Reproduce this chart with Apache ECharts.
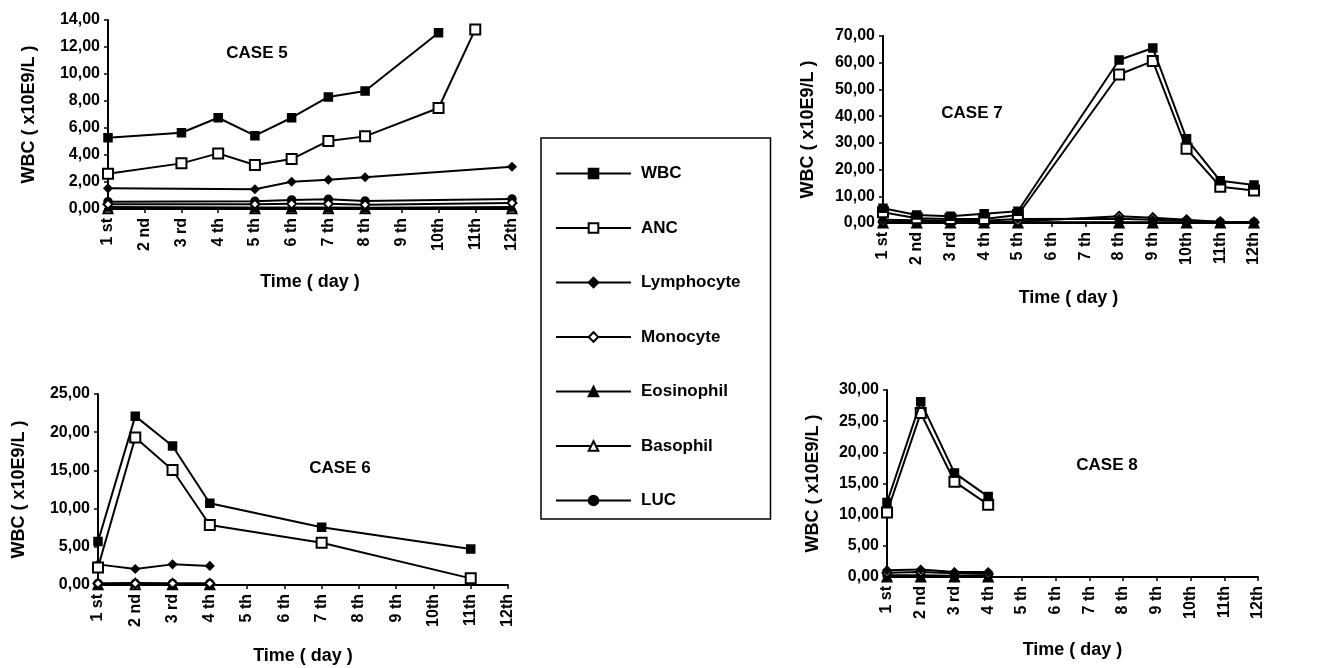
<!DOCTYPE html>
<html>
<head>
<meta charset="utf-8">
<script src="https://cdn.jsdelivr.net/npm/echarts@6/dist/echarts.min.js"></script>
<style>html,body{margin:0;padding:0;background:#fff}#c{width:1320px;height:668px}</style>
</head>
<body>
<div id="c"></div>
<script>
// ---- DATA ----
const days = ['1 st','2 nd','3 rd','4 th','5 th','6 th','7 th','8 th','9 th','10th','11th','12th'];
const seriesNames = ['WBC','ANC','Lymphocyte','Monocyte','Eosinophil','Basophil','LUC'];
const yMax = [14, 70, 25, 30];
const yStep = [2, 10, 5, 5];
const caseLabels = ['CASE 5','CASE 7','CASE 6','CASE 8'];

// CASE 5
const c5WBC   = [5.28, null, 5.65, 6.76, 5.43, 6.76, 8.30, 8.74, null, 13.06, null, null];
const c5ANC   = [2.61, null, 3.38, 4.12, 3.26, 3.70, 5.04, 5.38, null, 7.48, 13.30, null];
const c5Lymph = [1.53, null, null, null, 1.46, 2.02, 2.17, 2.35, null, null, null, 3.13];
const c5Mono  = [0.35, null, null, null, 0.35, 0.38, 0.38, 0.32, null, null, null, 0.45];
const c5Eos   = [0.15, null, null, null, 0.12, 0.12, 0.12, 0.10, null, null, null, 0.15];
const c5Baso  = [0.02, null, null, null, 0.02, 0.02, 0.02, 0.02, null, null, null, 0.02];
const c5LUC   = [0.54, null, null, null, 0.57, 0.67, 0.72, 0.59, null, null, null, 0.74];

// CASE 7
const c7WBC   = [5.5, 3.0, 2.5, 3.5, 4.4, null, null, 61.0, 65.5, 31.5, 15.8, 14.2];
const c7ANC   = [4.0, 1.8, 1.5, 1.5, 3.0, null, null, 55.6, 60.6, 27.8, 13.6, 12.2];
const c7Lymph = [1.2, 1.0, 0.8, 0.8, 1.5, null, null, 1.6, 1.2, 0.8, 0.5, 0.4];
const c7Mono  = [0.5, 0.4, 0.4, 0.3, 0.6, null, null, 2.5, 2.0, 1.2, 0.4, 0.3];
const c7Eos   = [0.1, 0.1, 0.1, 0.1, 0.1, null, null, 0.1, 0.1, 0.1, 0.1, 0.1];
const c7Baso  = [0.02, 0.02, 0.02, 0.02, 0.02, null, null, 0.02, 0.02, 0.02, 0.02, 0.02];
const c7LUC   = [0.2, 0.2, 0.2, 0.2, 0.3, null, null, 0.3, 0.3, 0.3, 0.3, 0.3];

// CASE 6
const c6WBC   = [5.7, 22.1, 18.2, 10.7, null, null, 7.55, null, null, null, 4.7, null];
const c6ANC   = [2.3, 19.3, 15.05, 7.85, null, null, 5.54, null, null, null, 0.87, null];
const c6Lymph = [2.7, 2.1, 2.7, 2.5, null, null, null, null, null, null, null, null];
const c6Mono  = [0.2, 0.2, 0.2, 0.2, null, null, null, null, null, null, null, null];
const c6Eos   = [0.1, 0.3, 0.1, 0.1, null, null, null, null, null, null, null, null];
const c6Baso  = [0.02, 0.02, 0.02, 0.02, null, null, null, null, null, null, null, null];
const c6LUC   = [0.2, 0.2, 0.2, 0.2, null, null, null, null, null, null, null, null];

// CASE 8
const c8WBC   = [11.95, 28.1, 16.7, 12.9, null, null, null, null, null, null, null, null];
const c8ANC   = [10.35, 26.3, 15.3, 11.6, null, null, null, null, null, null, null, null];
const c8Lymph = [1.1, 1.2, 0.8, 0.8, null, null, null, null, null, null, null, null];
const c8Mono  = [0.7, 0.8, 0.6, 0.5, null, null, null, null, null, null, null, null];
const c8Eos   = [0.1, 0.1, 0.1, 0.1, null, null, null, null, null, null, null, null];
const c8Baso  = [0.02, 0.02, 0.02, 0.02, null, null, null, null, null, null, null, null];
const c8LUC   = [0.3, 0.3, 0.2, 0.2, null, null, null, null, null, null, null, null];

const caseData = [
  [c5WBC, c5ANC, c5Lymph, c5Mono, c5Eos, c5Baso, c5LUC],
  [c7WBC, c7ANC, c7Lymph, c7Mono, c7Eos, c7Baso, c7LUC],
  [c6WBC, c6ANC, c6Lymph, c6Mono, c6Eos, c6Baso, c6LUC],
  [c8WBC, c8ANC, c8Lymph, c8Mono, c8Eos, c8Baso, c8LUC]
];

// ---- STYLE / LAYOUT ----
const FONT = 'Liberation Sans, Arial, sans-serif';
const grids = [
  {left: 108, top: 20,  width: 404, height: 189},
  {left: 883, top: 36,  width: 371, height: 187},
  {left: 98,  top: 394, width: 410, height: 191},
  {left: 887, top: 390, width: 371, height: 187}
];
const yNameGap = [70, 66, 70, 65];
const xNameGap = [64, 66, 62, 64];
const titlePos = [[257, 53], [972, 113], [340, 468], [1107, 465]];
const symbols = ['rect','emptyRect','diamond','emptyDiamond','triangle','emptyTriangle','circle'];
const symSizes = [8, 10, 8, 9, 8, 9, 8];

const chart = echarts.init(document.getElementById('c'));
const axisLine = {show: true, lineStyle: {color: '#000', width: 2}};

const option = {
  backgroundColor: '#fff',
  animation: false,
  grid: grids.map(g => Object.assign({outerBoundsMode: 'none', containLabel: false}, g)),
  xAxis: grids.map((g, i) => ({
    type: 'category', gridIndex: i, data: days, boundaryGap: false,
    axisLine: axisLine,
    axisTick: {show: true, length: 4, lineStyle: {color: '#000', width: 1.5}, alignWithLabel: true},
    axisLabel: {rotate: 90, interval: 0, color: '#000', fontFamily: FONT, fontWeight: 'bold', fontSize: 16, margin: 9},
    name: 'Time ( day )', nameLocation: 'middle', nameGap: xNameGap[i],
    nameTextStyle: {color: '#000', fontFamily: FONT, fontWeight: 'bold', fontSize: 18},
    splitLine: {show: false}
  })),
  yAxis: grids.map((g, i) => ({
    type: 'value', gridIndex: i, min: 0, max: yMax[i], interval: yStep[i],
    axisLine: axisLine,
    axisTick: {show: true, length: 4, lineStyle: {color: '#000', width: 1.5}},
    axisLabel: {color: '#000', fontFamily: FONT, fontWeight: 'bold', fontSize: 16, margin: 8,
      formatter: v => v.toFixed(2).replace('.', ',')},
    name: 'WBC ( x10E9/L )', nameLocation: 'middle', nameGap: yNameGap[i], nameRotate: 90,
    nameTextStyle: {color: '#000', fontFamily: FONT, fontWeight: 'bold', fontSize: 18},
    splitLine: {show: false}
  })),
  legend: {
    orient: 'vertical', left: 541, top: 138,
    data: seriesNames,
    itemWidth: 75, itemHeight: 12, itemGap: 37.5,
    padding: [27, 30, 10, 14],
    borderColor: '#000', borderWidth: 1.5,
    textStyle: {color: '#000', fontFamily: FONT, fontWeight: 'bold', fontSize: 17, padding: [0, 0, 0, 5]},
    selectedMode: false
  },
  graphic: caseLabels.map((t, i) => ({
    type: 'text', x: titlePos[i][0], y: titlePos[i][1],
    style: {text: t, fill: '#000', font: 'bold 17px ' + FONT, textAlign: 'center', textVerticalAlign: 'middle'}
  })),
  series: []
};

caseData.forEach((arr, ci) => {
  arr.forEach((vals, si) => {
    option.series.push({
      type: 'line', name: seriesNames[si], xAxisIndex: ci, yAxisIndex: ci,
      data: vals, connectNulls: true,
      symbol: symbols[si], symbolSize: symSizes[si], showSymbol: true,
      lineStyle: {color: '#000', width: 2},
      itemStyle: {color: '#000', borderColor: '#000', borderWidth: 1.5},
      z: 10 - si
    });
  });
});

chart.setOption(option);
</script>
</body>
</html>
